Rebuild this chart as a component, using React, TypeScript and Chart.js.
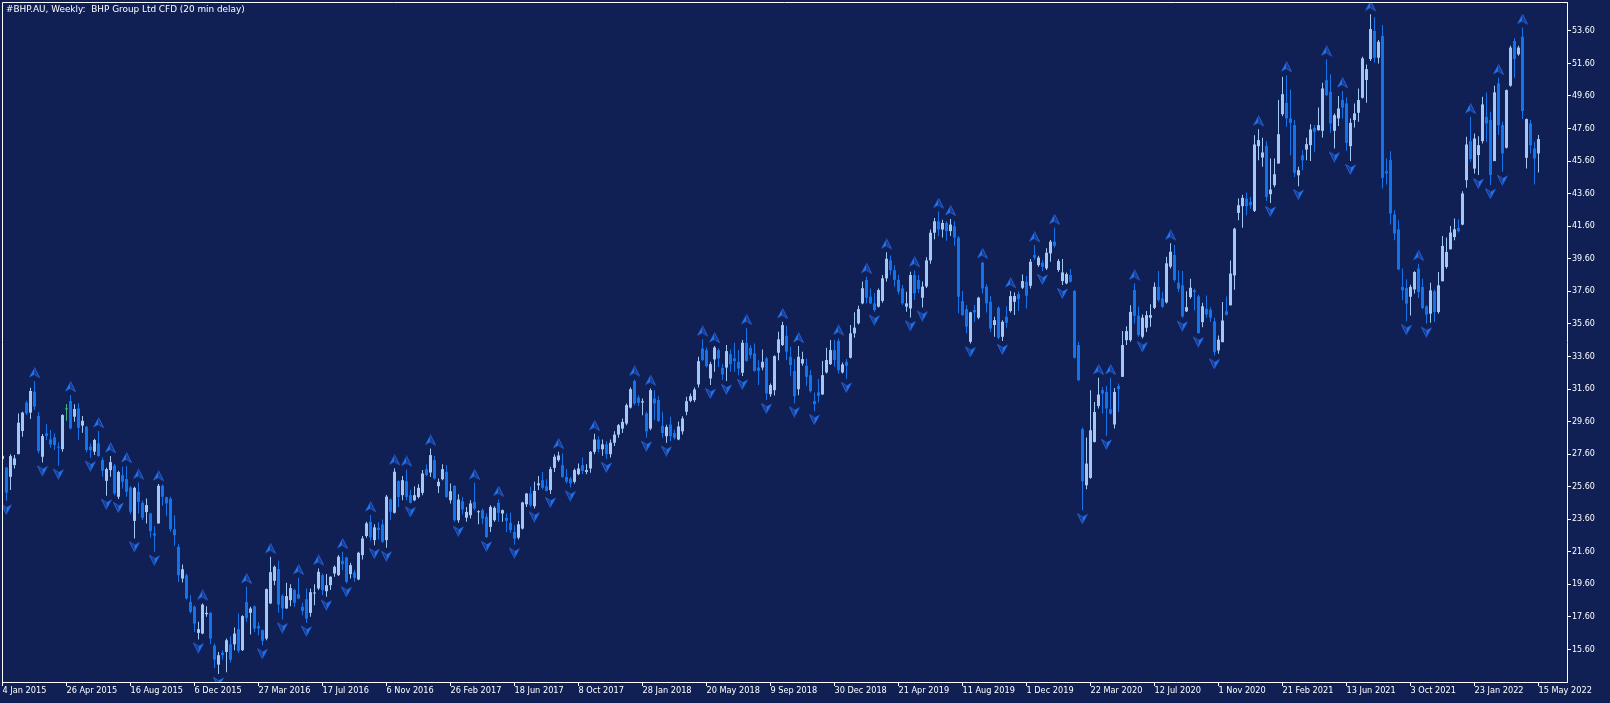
import React, { useEffect, useRef } from 'react';
import { Chart, registerables } from 'chart.js';

Chart.register(...registerables);

const TITLE = '#BHP.AU, Weekly:  BHP Group Ltd CFD (20 min delay)';

const xTickLabels = [
  '4 Jan 2015', '26 Apr 2015', '16 Aug 2015', '6 Dec 2015', '27 Mar 2016', '17 Jul 2016',
  '6 Nov 2016', '26 Feb 2017', '18 Jun 2017', '8 Oct 2017', '28 Jan 2018', '20 May 2018',
  '9 Sep 2018', '30 Dec 2018', '21 Apr 2019', '11 Aug 2019', '1 Dec 2019', '22 Mar 2020',
  '12 Jul 2020', '1 Nov 2020', '21 Feb 2021', '13 Jun 2021', '3 Oct 2021', '23 Jan 2022',
  '15 May 2022',
];
const xTickStep = 16;

const yTickValues = [
  15.6, 17.6, 19.6, 21.6, 23.6, 25.6, 27.6, 29.6, 31.6, 33.6,
  35.6, 37.6, 39.6, 41.6, 43.6, 45.6, 47.6, 49.6, 51.6, 53.6,
];

const opens = [
  27.3, 26.78, 26.21, 26.93, 27.6, 29.02, 30.76, 30.15, 31.44, 29.94,
  27.44, 28.88, 28.51, 28.63, 28.06, 27.91, 30.35, 30.86, 29.9, 30.41,
  29.35, 29.28, 28.06, 27.75, 28.26, 27.24, 25.96, 26.62, 26.89, 24.98,
  26.31, 26.07, 25.55, 23.5, 25.29, 24.61, 24.04, 23.96, 22.73, 23.34,
  25.66, 24.96, 24.86, 22.99, 21.9, 19.96, 20.16, 18.52, 18.22, 16.62,
  16.58, 17.77, 17.85, 15.84, 14.67, 15.41, 15.45, 15.92, 15.92, 16.85,
  15.56, 18.51, 17.85, 18.26, 17.05, 16.79, 16.27, 18.43, 19.82, 20.54,
  18.9, 18.12, 18.63, 19.25, 19.0, 18.22, 18.69, 17.85, 19.04, 19.35,
  20.17, 19.18, 19.55, 20.27, 20.17, 21.05, 21.25, 20.23, 20.33, 19.9,
  21.4, 22.57, 23.45, 22.32, 23.08, 23.28, 22.32, 24.82, 24.0, 25.94,
  25.08, 25.94, 25.08, 24.77, 24.97, 25.22, 26.68, 26.47, 27.23, 25.63,
  26.06, 26.51, 24.77, 25.65, 23.54, 24.71, 23.7, 23.85, 24.67, 24.03,
  24.16, 23.75, 23.13, 23.54, 24.61, 23.95, 23.68, 23.38, 22.82, 22.47,
  23.03, 24.52, 25.18, 24.4, 25.69, 26.0, 25.63, 25.39, 26.76, 27.23,
  26.92, 26.2, 26.1, 25.9, 26.37, 26.92, 26.51, 26.72, 27.74, 28.5,
  27.9, 28.2, 27.6, 28.3, 28.8, 29.17, 29.48, 30.46, 32.1, 31.08,
  30.77, 30.1, 29.17, 31.02, 30.92, 29.34, 28.7, 29.42, 28.9, 28.5,
  29.0, 30.2, 30.87, 30.92, 31.88, 34.09, 33.99, 32.25, 33.42, 33.99,
  32.9, 32.92, 33.74, 33.48, 33.27, 32.6, 34.44, 34.13, 33.79, 32.92,
  32.92, 33.48, 31.28, 31.53, 33.83, 34.3, 34.87, 33.58, 32.7, 31.59,
  33.17, 33.03, 32.45, 30.86, 31.39, 31.27, 32.62, 33.13, 33.99, 34.55,
  32.62, 33.27, 33.52, 35.02, 35.63, 36.86, 38.3, 37.27, 36.86, 36.66,
  37.01, 38.4, 39.5, 38.9, 38.3, 37.78, 36.66, 36.55, 38.6, 38.3,
  37.21, 37.9, 39.5, 41.2, 41.9, 41.4, 41.8, 41.3, 41.6, 40.9,
  37.0, 36.51, 34.5, 36.45, 35.98, 39.36, 37.88, 36.96, 35.53, 36.59,
  34.81, 36.04, 36.39, 36.96, 37.43, 37.82, 38.19, 37.94, 39.83, 39.21,
  39.36, 39.01, 39.93, 40.65, 38.91, 38.23, 38.09, 38.6, 37.62, 34.3,
  29.13, 25.69, 26.14, 28.35, 30.56, 31.53, 31.42, 30.36, 29.42, 31.79,
  32.35, 34.6, 34.6, 37.68, 36.1, 34.81, 35.36, 35.98, 36.59, 37.88,
  37.16, 36.92, 39.12, 39.83, 38.13, 37.97, 36.37, 37.25, 37.66, 37.29,
  35.71, 36.53, 36.47, 35.75, 33.97, 34.48, 36.37, 36.74, 38.58, 42.42,
  42.83, 43.3, 43.09, 42.54, 46.52, 45.82, 46.52, 43.57, 44.12, 45.45,
  48.48, 49.18, 48.22, 47.81, 44.73, 45.96, 46.31, 46.58, 47.64, 47.5,
  47.46, 50.57, 49.86, 47.46, 48.22, 49.35, 49.14, 46.52, 48.12, 48.57,
  49.49, 50.58, 51.87, 53.59, 51.95, 53.28, 44.98, 45.66, 42.32, 41.41,
  37.87, 37.81, 37.27, 37.72, 39.0, 37.87, 36.68, 36.23, 37.6, 36.33,
  38.22, 39.1, 40.18, 40.94, 41.5, 41.7, 44.43, 46.83, 45.14, 45.97,
  46.83, 48.32, 48.12, 45.6, 50.37, 47.81, 46.42, 50.23, 52.98, 52.16,
  53.24, 45.8, 47.91, 46.38, 46.07,
];

const highs = [
  27.6, 26.8, 27.6, 27.54, 30.1, 30.21, 30.88, 31.68, 32.09, 30.17,
  28.83, 29.45, 29.08, 28.88, 28.32, 30.05, 30.68, 31.23, 30.66, 30.72,
  29.94, 29.33, 28.26, 28.55, 29.02, 27.4, 26.76, 27.48, 26.99, 26.58,
  26.83, 26.87, 25.64, 25.6, 25.86, 24.73, 24.88, 24.0, 23.18, 25.76,
  25.74, 24.98, 24.98, 23.85, 22.07, 20.82, 20.27, 18.93, 18.32, 17.3,
  18.43, 18.26, 17.91, 15.95, 15.45, 15.56, 16.27, 16.42, 16.95, 17.81,
  17.71, 19.45, 18.22, 18.3, 17.28, 16.83, 19.35, 21.3, 20.76, 21.05,
  19.0, 19.7, 19.61, 19.35, 20.0, 18.47, 19.35, 19.35, 19.61, 20.58,
  20.27, 20.23, 20.1, 20.76, 21.4, 21.6, 21.3, 20.93, 20.48, 21.6,
  22.57, 23.45, 23.86, 23.3, 23.41, 23.59, 25.09, 24.88, 26.73, 26.0,
  26.25, 26.66, 25.39, 25.63, 25.75, 26.62, 26.96, 27.95, 27.48, 26.1,
  26.98, 26.92, 25.8, 25.69, 25.14, 24.97, 24.36, 24.77, 25.84, 24.16,
  24.26, 23.95, 24.46, 24.4, 24.81, 24.2, 23.95, 24.01, 23.23, 23.5,
  24.67, 25.22, 25.59, 25.9, 26.25, 26.51, 26.06, 26.82, 27.58, 27.74,
  27.64, 26.68, 26.2, 26.72, 27.03, 27.4, 26.98, 27.8, 28.85, 28.7,
  28.5, 28.4, 28.5, 29.0, 29.45, 29.79, 30.71, 31.69, 32.19, 31.22,
  31.02, 30.2, 31.63, 31.53, 31.16, 30.2, 29.4, 29.89, 29.1, 29.6,
  29.93, 31.12, 31.33, 31.69, 33.58, 34.65, 34.15, 33.27, 34.24, 34.09,
  33.13, 34.3, 34.03, 34.44, 33.99, 34.61, 35.36, 34.3, 34.4, 33.37,
  34.03, 33.58, 31.94, 33.68, 35.12, 35.73, 35.49, 34.2, 33.44, 34.24,
  33.89, 33.48, 32.76, 31.39, 32.21, 33.32, 34.14, 34.61, 34.61, 34.71,
  33.23, 33.44, 35.53, 36.31, 36.72, 38.2, 38.5, 37.78, 37.48, 37.78,
  38.6, 40.0, 39.8, 39.2, 38.6, 37.99, 37.58, 38.8, 38.9, 38.6,
  38.2, 39.7, 41.4, 42.1, 42.5, 42.0, 41.9, 42.05, 41.9, 41.0,
  37.62, 36.76, 36.35, 36.76, 37.27, 39.42, 38.03, 37.31, 36.04, 36.69,
  35.83, 36.69, 37.62, 37.53, 37.57, 38.64, 38.54, 39.58, 40.44, 39.79,
  39.52, 40.24, 40.75, 41.51, 39.58, 39.58, 38.76, 38.97, 37.68, 34.5,
  29.23, 28.62, 31.53, 30.81, 32.29, 31.73, 31.79, 32.29, 31.67, 31.94,
  35.16, 35.46, 36.75, 38.09, 36.65, 36.18, 36.39, 36.8, 38.15, 38.85,
  37.57, 39.73, 40.55, 40.44, 38.89, 38.85, 37.6, 38.38, 37.76, 37.39,
  36.9, 37.35, 36.63, 35.98, 34.89, 36.94, 37.29, 39.5, 41.5, 43.3,
  43.54, 43.67, 43.4, 47.19, 47.56, 47.03, 46.82, 45.76, 45.76, 49.35,
  50.78, 50.88, 50.0, 48.12, 45.25, 46.27, 47.03, 47.87, 47.81, 48.89,
  50.41, 51.85, 50.94, 48.53, 49.6, 49.9, 49.51, 48.22, 49.14, 50.06,
  52.01, 51.54, 54.62, 54.43, 53.04, 53.96, 45.76, 46.21, 42.58, 41.97,
  39.0, 38.34, 38.01, 38.83, 39.3, 38.38, 36.75, 38.13, 37.72, 38.79,
  41.0, 40.9, 41.62, 42.07, 42.03, 43.75, 47.09, 48.32, 47.3, 47.13,
  49.55, 49.82, 48.63, 50.23, 50.72, 48.02, 50.0, 52.69, 53.14, 52.69,
  53.8, 48.22, 48.12, 46.79, 47.2,
];

const lows = [
  27.2, 24.73, 25.39, 26.72, 27.6, 28.67, 30.0, 29.76, 30.31, 27.65,
  27.09, 28.47, 27.99, 27.85, 26.89, 27.75, 29.65, 29.12, 29.59, 28.47,
  28.92, 27.71, 27.38, 27.54, 27.44, 26.21, 25.04, 26.21, 25.08, 24.84,
  25.49, 24.98, 23.91, 22.42, 23.96, 23.55, 23.34, 22.48, 21.6, 23.34,
  24.43, 23.81, 22.83, 21.97, 19.75, 19.71, 18.67, 17.81, 16.68, 16.21,
  16.54, 17.61, 15.92, 14.46, 14.1, 14.98, 14.2, 14.8, 15.56, 15.39,
  15.51, 17.3, 16.52, 16.68, 16.48, 15.86, 16.17, 18.4, 19.55, 17.85,
  17.44, 18.1, 18.26, 18.22, 18.69, 17.71, 17.24, 17.61, 18.32, 19.25,
  18.94, 18.84, 19.25, 20.07, 20.11, 20.48, 19.66, 19.96, 19.76, 19.86,
  21.13, 22.46, 22.28, 22.01, 22.36, 22.16, 21.85, 23.55, 23.96, 24.36,
  24.77, 24.77, 24.57, 24.7, 24.87, 25.08, 26.25, 26.2, 26.04, 25.22,
  26.0, 24.91, 24.57, 23.44, 23.38, 23.89, 23.44, 23.64, 24.16, 23.29,
  23.29, 22.45, 22.82, 23.44, 23.44, 23.44, 22.82, 22.76, 22.04, 22.35,
  22.97, 24.36, 24.36, 24.26, 25.39, 25.43, 25.3, 25.15, 26.51, 27.13,
  26.15, 25.8, 25.55, 25.8, 26.31, 26.37, 26.37, 26.45, 27.6, 27.7,
  27.5, 27.3, 27.4, 28.1, 28.6, 28.9, 29.38, 30.4, 30.61, 30.55,
  29.99, 28.6, 29.07, 29.69, 29.58, 28.6, 28.3, 28.4, 28.5, 28.45,
  28.8, 29.99, 30.79, 30.81, 31.69, 33.33, 32.92, 31.84, 32.66, 32.96,
  32.15, 32.1, 32.66, 32.66, 32.45, 32.4, 33.27, 33.48, 32.66, 31.84,
  32.76, 30.92, 31.12, 31.2, 33.37, 34.24, 33.38, 32.41, 30.71, 31.22,
  33.03, 31.8, 31.39, 30.24, 30.77, 31.23, 32.56, 33.07, 32.97, 32.56,
  32.56, 32.21, 33.48, 34.75, 35.57, 36.8, 36.86, 36.8, 36.35, 36.6,
  36.9, 38.2, 38.6, 37.9, 37.4, 36.76, 36.35, 36.0, 37.07, 37.48,
  36.6, 37.8, 39.3, 40.8, 41.0, 40.9, 40.7, 41.0, 40.4, 36.25,
  36.1, 35.02, 34.4, 35.73, 35.89, 37.47, 36.3, 35.11, 34.81, 34.66,
  34.55, 35.36, 36.3, 36.14, 36.39, 37.74, 36.55, 37.78, 39.52, 39.11,
  38.85, 38.91, 39.42, 40.3, 38.8, 37.99, 38.03, 38.15, 33.47, 32.1,
  24.15, 25.44, 26.09, 28.31, 30.4, 30.09, 28.72, 30.03, 29.17, 30.19,
  32.35, 34.3, 34.5, 35.63, 34.81, 34.71, 35.11, 35.42, 36.51, 36.96,
  36.59, 36.86, 39.01, 38.19, 37.56, 35.98, 36.33, 37.15, 36.43, 35.0,
  35.4, 35.98, 35.71, 33.66, 33.76, 34.48, 36.12, 36.74, 37.7, 41.96,
  41.51, 42.27, 42.68, 42.48, 45.65, 45.25, 43.15, 43.03, 44.0, 45.45,
  48.36, 47.71, 45.96, 44.63, 44.06, 45.04, 45.65, 45.61, 46.17, 47.46,
  47.05, 49.59, 47.34, 46.37, 47.75, 48.22, 46.23, 45.61, 47.66, 48.01,
  49.45, 49.18, 51.75, 51.66, 51.6, 43.92, 44.16, 41.7, 40.74, 38.89,
  37.05, 35.76, 36.12, 37.46, 37.19, 36.5, 35.61, 35.67, 35.71, 36.23,
  38.22, 39.0, 40.18, 40.74, 41.21, 41.66, 43.96, 45.56, 44.84, 44.74,
  46.68, 46.78, 44.12, 45.6, 47.2, 44.94, 46.38, 50.17, 50.72, 52.07,
  48.18, 45.14, 46.07, 44.16, 44.9,
];

const closes = [
  27.5, 25.23, 27.48, 27.34, 29.53, 30.15, 30.1, 31.48, 30.52, 27.79,
  28.71, 28.71, 28.2, 28.16, 27.99, 30.0, 30.35, 29.18, 30.37, 29.22,
  29.65, 27.85, 27.85, 28.47, 27.48, 26.58, 26.68, 27.11, 25.19, 26.5,
  25.9, 25.29, 24.06, 25.53, 24.67, 23.69, 24.47, 22.87, 22.6, 25.66,
  24.98, 24.57, 22.99, 22.62, 20.16, 20.53, 18.73, 17.91, 17.19, 16.85,
  18.36, 17.85, 16.27, 14.98, 15.25, 15.25, 16.17, 14.97, 16.58, 15.51,
  17.65, 17.54, 18.12, 16.89, 16.89, 16.13, 19.31, 20.35, 20.68, 18.36,
  18.12, 18.88, 19.37, 18.47, 18.73, 17.97, 17.5, 19.12, 19.08, 20.37,
  19.25, 19.55, 20.07, 20.68, 21.3, 20.84, 19.76, 20.78, 20.0, 21.54,
  22.42, 23.35, 22.48, 23.1, 22.94, 22.22, 24.99, 24.06, 26.52, 24.97,
  26.0, 24.97, 24.61, 25.08, 25.53, 26.41, 26.31, 27.54, 26.1, 25.9,
  26.68, 24.97, 25.32, 23.54, 24.81, 24.2, 24.05, 24.57, 24.26, 24.09,
  23.64, 22.51, 24.36, 24.3, 23.99, 24.16, 23.5, 22.93, 22.41, 23.29,
  24.63, 25.18, 24.46, 25.34, 25.8, 25.53, 25.34, 26.68, 27.44, 27.52,
  26.2, 25.9, 25.8, 26.62, 26.72, 26.57, 26.62, 27.74, 28.5, 27.9,
  28.2, 27.6, 28.3, 28.8, 29.38, 29.58, 30.61, 31.59, 30.71, 30.75,
  30.85, 29.0, 31.53, 30.71, 29.64, 28.9, 29.27, 28.7, 28.6, 29.3,
  29.79, 30.85, 31.16, 31.57, 33.31, 33.37, 33.0, 33.13, 34.15, 33.48,
  32.49, 33.93, 33.13, 33.31, 32.86, 34.44, 33.33, 33.68, 32.72, 32.72,
  33.27, 31.33, 31.84, 33.62, 34.65, 35.53, 33.89, 33.07, 31.16, 33.58,
  33.44, 32.35, 31.47, 30.67, 31.18, 32.45, 33.38, 33.99, 33.38, 32.76,
  33.11, 33.03, 35.02, 35.37, 36.51, 37.79, 37.21, 36.86, 36.45, 37.68,
  38.4, 39.6, 38.9, 38.3, 37.58, 36.86, 36.86, 38.6, 37.48, 37.74,
  37.89, 39.5, 41.2, 41.9, 41.4, 41.8, 41.3, 41.7, 40.9, 37.27,
  36.14, 35.43, 36.31, 36.31, 37.21, 37.78, 36.86, 35.32, 35.83, 34.75,
  35.73, 35.67, 37.31, 37.31, 37.12, 38.23, 37.33, 39.42, 39.67, 39.67,
  39.11, 39.97, 40.65, 40.4, 39.46, 38.76, 38.66, 38.19, 33.52, 32.14,
  25.93, 27.02, 29.07, 30.19, 31.26, 31.32, 30.4, 30.09, 31.42, 31.59,
  34.3, 35.16, 36.34, 36.1, 34.91, 35.98, 36.14, 36.14, 37.88, 37.06,
  36.65, 39.32, 40.03, 38.29, 37.76, 36.06, 36.63, 37.82, 37.56, 35.04,
  36.68, 36.18, 35.98, 33.87, 34.63, 35.81, 36.16, 38.69, 41.45, 42.89,
  43.34, 42.83, 42.89, 46.62, 46.89, 46.13, 43.4, 43.85, 44.79, 47.25,
  49.71, 48.22, 47.95, 44.88, 45.04, 45.65, 46.64, 47.54, 47.4, 47.81,
  50.06, 49.65, 47.91, 48.42, 48.83, 48.89, 46.72, 47.95, 48.53, 49.35,
  51.91, 51.25, 53.71, 51.95, 52.93, 44.57, 44.84, 42.38, 41.15, 38.95,
  37.66, 36.84, 37.87, 38.79, 37.56, 36.58, 36.17, 37.66, 36.33, 37.97,
  40.39, 40.02, 41.21, 41.41, 41.29, 43.61, 46.62, 45.72, 46.99, 46.58,
  49.08, 47.91, 44.74, 49.82, 47.81, 46.07, 49.96, 52.57, 51.87, 52.57,
  48.67, 48.18, 46.58, 45.76, 46.95,
];

const BG = '#112054';
const BULL = '#a4c8f4';
const BEAR = '#1472ea';
const DOJI = '#43b47a';
const AXIS = '#ffffff';
const FONT = '"DejaVu Sans", Verdana, sans-serif';

function makeArrow(up: boolean): HTMLCanvasElement {
  const c = document.createElement('canvas');
  c.width = 11;
  c.height = 28;
  const g = c.getContext('2d')!;
  const bright = '#1f72f2';
  const dark = '#173b94';
  const edge = '#2660d4';
  if (up) {
    g.fillStyle = bright;
    g.beginPath(); g.moveTo(5.5, 0.5); g.lineTo(0, 10.5); g.lineTo(5.5, 7.5); g.closePath(); g.fill();
    g.fillStyle = dark;
    g.beginPath(); g.moveTo(5.5, 0.5); g.lineTo(10.5, 10.5); g.lineTo(5.5, 7.5); g.closePath(); g.fill();
    g.strokeStyle = edge; g.lineWidth = 1;
    g.beginPath(); g.moveTo(5.5, 0.5); g.lineTo(10.5, 10.5); g.lineTo(5.5, 7.5); g.stroke();
  } else {
    g.fillStyle = dark;
    g.beginPath(); g.moveTo(5.5, 27.5); g.lineTo(0.5, 17.5); g.lineTo(5.5, 20.5); g.closePath(); g.fill();
    g.strokeStyle = edge; g.lineWidth = 1;
    g.beginPath(); g.moveTo(5.5, 27.5); g.lineTo(0.5, 17.5); g.lineTo(5.5, 20.5); g.stroke();
    g.fillStyle = bright;
    g.beginPath(); g.moveTo(5.5, 27.5); g.lineTo(11, 17.5); g.lineTo(5.5, 20.5); g.closePath(); g.fill();
  }
  return c;
}

const zeroPadding = (s: any) => {
  s.paddingLeft = 0;
  s.paddingRight = 0;
  s.paddingTop = 0;
  s.paddingBottom = 0;
};

export default function App() {
  const ref = useRef<HTMLCanvasElement>(null);

  useEffect(() => {
    document.body.style.margin = '0';
    document.body.style.background = BG;
    const n = Math.min(opens.length, highs.length, lows.length, closes.length);
    const idx = Array.from({ length: n }, (_, i) => i);
    const colors = idx.map((i) => (closes[i] > opens[i] ? BULL : closes[i] < opens[i] ? BEAR : DOJI));

    const upFr: number[] = [];
    const dnFr: number[] = [];
    for (let i = 1; i < n - 2; i++) {
      let isUp = true;
      let isDn = true;
      for (let j = i - 2; j <= i + 2; j++) {
        if (j === i || j < 0) continue;
        if (!(highs[i] > highs[j])) isUp = false;
        if (!(lows[i] < lows[j])) isDn = false;
      }
      if (isUp) upFr.push(i);
      if (isDn) dnFr.push(i);
    }

    const upImg = makeArrow(true);
    const dnImg = makeArrow(false);

    const bgPlugin = {
      id: 'bg',
      beforeDraw(chart: any) {
        const { ctx, width, height } = chart;
        ctx.save();
        ctx.fillStyle = BG;
        ctx.fillRect(0, 0, width, height);
        ctx.restore();
      },
      afterDraw(chart: any) {
        const { ctx, chartArea } = chart;
        ctx.save();
        ctx.strokeStyle = AXIS;
        ctx.lineWidth = 1;
        ctx.beginPath();
        ctx.moveTo(chartArea.left + 0.5, chartArea.bottom);
        ctx.lineTo(chartArea.left + 0.5, chartArea.top + 0.5);
        ctx.lineTo(chartArea.right, chartArea.top + 0.5);
        ctx.stroke();
        ctx.fillStyle = '#ffffff';
        ctx.font = `8.9px ${FONT}`;
        ctx.textBaseline = 'middle';
        ctx.textAlign = 'left';
        ctx.fillText(TITLE, 6, 10);
        ctx.restore();
      },
    };

    const chart = new Chart(ref.current!, {
      type: 'bar',
      data: {
        datasets: [
          {
            type: 'scatter',
            label: 'Fractal up',
            data: upFr.map((i) => ({ x: i, y: highs[i] })),
            pointStyle: upImg as any,
            pointRadius: 5,
            order: 1,
          } as any,
          {
            type: 'scatter',
            label: 'Fractal down',
            data: dnFr.map((i) => ({ x: i, y: lows[i] })),
            pointStyle: dnImg as any,
            pointRadius: 5,
            order: 1,
          } as any,
          {
            type: 'bar',
            label: 'Body',
            data: idx.map((i) => ({ x: i, y: [opens[i], closes[i]] })),
            backgroundColor: colors,
            barThickness: 3,
            minBarLength: 1,
            grouped: false,
            inflateAmount: 0,
            borderWidth: 0,
            order: 2,
          } as any,
          {
            type: 'bar',
            label: 'Wick',
            data: idx.map((i) => ({ x: i, y: [lows[i], highs[i]] })),
            backgroundColor: colors,
            barThickness: 1,
            grouped: false,
            inflateAmount: 0,
            borderWidth: 0,
            order: 3,
          } as any,
        ],
      },
      options: {
        animation: false,
        responsive: false,
        maintainAspectRatio: false,
        events: [],
        layout: { autoPadding: false, padding: { left: 2, top: 2, right: 0, bottom: 0 } },
        plugins: { legend: { display: false }, tooltip: { enabled: false }, title: { display: false } },
        scales: {
          x: {
            type: 'linear',
            min: -0.125,
            max: 391.125,
            offset: false,
            afterFit: (s: any) => { s.height = 21; zeroPadding(s); },
            afterBuildTicks: (s: any) => { s.ticks = xTickLabels.map((_, k) => ({ value: k * xTickStep })); },
            ticks: {
              autoSkip: false,
              maxRotation: 0,
              minRotation: 0,
              align: 'start',
              padding: 0,
              color: AXIS,
              font: { family: FONT, size: 8.2 },
              callback: (v: any) => xTickLabels[Math.round(Number(v) / xTickStep)] ?? '',
            },
            grid: { display: true, drawOnChartArea: false, drawTicks: true, tickLength: 4, color: AXIS, offset: false },
            border: { display: true, color: AXIS },
          },
          y: {
            type: 'linear',
            position: 'right',
            min: 13.6037,
            max: 55.373,
            afterFit: (s: any) => { s.width = 43; zeroPadding(s); },
            afterBuildTicks: (s: any) => { s.ticks = yTickValues.map((v) => ({ value: v })); },
            ticks: {
              padding: 1,
              color: AXIS,
              font: { family: FONT, size: 8 },
              callback: (v: any) => Number(v).toFixed(2),
            },
            grid: { display: true, drawOnChartArea: false, drawTicks: true, tickLength: 4, color: AXIS },
            border: { display: true, color: AXIS },
          },
        },
      } as any,
      plugins: [bgPlugin],
    });

    return () => chart.destroy();
  }, []);

  return (
    <div style={{ width: 1610, height: 703, background: BG }}>
      <canvas ref={ref} width={1610} height={703} style={{ display: 'block', width: 1610, height: 703 }} />
    </div>
  );
}
